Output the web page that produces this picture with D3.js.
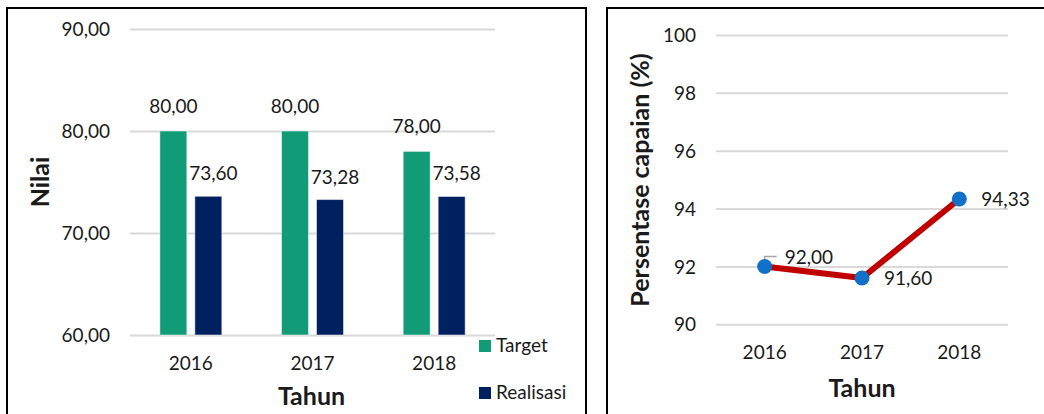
<!DOCTYPE html>
<html>
<head>
<meta charset="utf-8">
<script src="https://cdn.jsdelivr.net/npm/d3@7"></script>
<style>
  html, body { margin: 0; padding: 0; background: #fff; }
  svg { display: block; }
  text { font-family: Lato, "Open Sans", sans-serif; fill: #1a1a1a; }
</style>
</head>
<body>
<svg id="chart" width="1044" height="414"></svg>
<script>
// ---- data ----
const years = ["2016", "2017", "2018"];
const seriesNames = ["Target", "Realisasi"];
const targetValues = [80.00, 80.00, 78.00];
const realisasiValues = [73.60, 73.28, 73.58];
const capaianValues = [92.00, 91.60, 94.33];
const barTicks = [60, 70, 80, 90];
const lineTicks = [90, 92, 94, 96, 98, 100];

const colors = { Target: "#119b77", Realisasi: "#002060" };
const locale = d3.formatLocale({ decimal: ",", thousands: ".", grouping: [3], currency: ["", ""] });
const fmt2 = locale.format(".2f");
const fmt0 = locale.format("d");
const FS = 19, TFS = 25;

const svg = d3.select("#chart");

// panel borders
svg.append("rect").attr("x", 7).attr("y", 8).attr("width", 579).attr("height", 500)
  .attr("fill", "none").attr("stroke", "#000").attr("stroke-width", 2);
svg.append("rect").attr("x", 607).attr("y", 8).attr("width", 500).attr("height", 500)
  .attr("fill", "none").attr("stroke", "#000").attr("stroke-width", 2);

// ================= LEFT: bar chart =================
{
  const L = 130, R = 495, T = 29, B = 335;
  const x0 = d3.scaleBand().domain(years).range([L, R]).paddingInner(0).paddingOuter(0);
  const bw = x0.bandwidth();
  const x1 = d3.scaleBand().domain(seriesNames).range([bw / 2 - 31, bw / 2 + 31]).paddingInner(0.229);
  const y = d3.scaleLinear().domain([60, 90]).range([B, T]);

  const yAxis = svg.append("g").attr("transform", `translate(${L},0)`)
    .call(d3.axisLeft(y).tickValues(barTicks).tickFormat(fmt2).tickSizeInner(-(R - L)).tickSizeOuter(0).tickPadding(20));
  yAxis.select(".domain").remove();
  yAxis.selectAll("line").attr("stroke", "#d9d9d9").attr("stroke-width", 2);
  yAxis.selectAll("text").attr("font-size", FS).attr("dy", "0.35em").style("font-family", "Lato").attr("fill", "#1a1a1a");

  const data = years.map((yr, i) => ({ year: yr, values: [
    { key: "Target", value: targetValues[i] },
    { key: "Realisasi", value: realisasiValues[i] }
  ]}));

  const groups = svg.append("g").selectAll("g").data(data).join("g")
    .attr("transform", d => `translate(${x0(d.year)},0)`);
  groups.selectAll("rect").data(d => d.values).join("rect")
    .attr("x", d => x1(d.key)).attr("width", x1.bandwidth())
    .attr("y", d => y(d.value)).attr("height", d => y(60) - y(d.value))
    .attr("fill", d => colors[d.key]).attr("stroke", "#ffffff").attr("stroke-opacity", 0.5).attr("stroke-width", 1);
  groups.selectAll("text.val").data(d => d.values).join("text").attr("class", "val")
    .attr("x", d => x1(d.key) + x1.bandwidth() / 2 + (d.key === "Realisasi" ? 5 : 0))
    .attr("y", d => y(d.value) - (d.key === "Realisasi" ? 16 : 18))
    .attr("text-anchor", "middle").attr("font-size", FS)
    .text(d => fmt2(d.value));

  const xAxis = svg.append("g").attr("transform", `translate(0,${B})`)
    .call(d3.axisBottom(x0).tickSize(0));
  xAxis.select(".domain").remove();
  xAxis.selectAll("text").attr("y", 35).attr("dy", null).attr("font-size", FS)
    .style("font-family", "Lato").attr("fill", "#1a1a1a");

  svg.append("text").attr("x", (L + R) / 2 - 1).attr("y", 405).attr("text-anchor", "middle")
    .attr("font-size", TFS).attr("font-weight", "bold").text("Tahun");
  svg.append("text").attr("transform", "translate(49,182) rotate(-90)").attr("text-anchor", "middle")
    .attr("font-size", TFS).attr("font-weight", "bold").text("Nilai");

  // legend
  const leg = svg.append("g").selectAll("g").data(seriesNames).join("g")
    .attr("transform", (d, i) => `translate(479,${340 + i * 47})`);
  leg.append("rect").attr("width", 12).attr("height", 12).attr("fill", d => colors[d]);
  leg.append("text").attr("x", 17).attr("y", 12).attr("font-size", FS).text(d => d);
}

// ================= RIGHT: line chart =================
{
  const L = 716, R = 1008, T = 35, B = 324.3;
  const x = d3.scaleBand().domain(years).range([L, R]);
  const y = d3.scaleLinear().domain([90, 100]).range([B, T]);
  const cx = d => x(d) + x.bandwidth() / 2;

  const yAxis = svg.append("g").attr("transform", `translate(${L},0)`)
    .call(d3.axisLeft(y).tickValues(lineTicks).tickFormat(fmt0).tickSizeInner(-(R - L)).tickSizeOuter(0).tickPadding(20));
  yAxis.select(".domain").remove();
  yAxis.selectAll("line").attr("stroke", "#d9d9d9").attr("stroke-width", 2);
  yAxis.selectAll("text").attr("font-size", FS).attr("dy", "0.35em").style("font-family", "Lato").attr("fill", "#1a1a1a");

  const xAxis = svg.append("g").attr("transform", `translate(0,${B})`)
    .call(d3.axisBottom(x).tickSize(0));
  xAxis.select(".domain").remove();
  xAxis.selectAll("text").attr("y", 35).attr("dy", null).attr("font-size", FS)
    .style("font-family", "Lato").attr("fill", "#1a1a1a");

  const pts = years.map((yr, i) => ({ year: yr, value: capaianValues[i], i }));
  const line = d3.line().x(d => cx(d.year)).y(d => y(d.value));
  svg.append("path").datum(pts).attr("d", line).attr("fill", "none")
    .attr("stroke", "#c00000").attr("stroke-width", 6).attr("stroke-linejoin", "round");

  // leader line for first label
  const p0 = pts[0];
  svg.append("path")
    .attr("d", `M${cx(p0.year)},${y(p0.value) - 4}V${y(p0.value) - 10}H${cx(p0.year) + 12}`)
    .attr("fill", "none").attr("stroke", "#a6a6a6").attr("stroke-width", 1.5);

  svg.append("g").selectAll("circle").data(pts).join("circle")
    .attr("cx", d => cx(d.year)).attr("cy", d => y(d.value)).attr("r", 7.5)
    .attr("fill", "#1170c8");

  svg.append("g").selectAll("text").data(pts).join("text")
    .attr("x", d => cx(d.year) + (d.i === 0 ? 20 : 22))
    .attr("y", d => y(d.value) + (d.i === 0 ? -2 : 7))
    .attr("font-size", FS).text(d => fmt2(d.value));

  svg.append("text").attr("x", (L + R) / 2).attr("y", 397).attr("text-anchor", "middle")
    .attr("font-size", TFS).attr("font-weight", "bold").text("Tahun");
  svg.append("text").attr("transform", "translate(649,180) rotate(-90)").attr("text-anchor", "middle")
    .attr("font-size", TFS).attr("font-weight", "bold").text("Persentase capaian (%)");
}
</script>
</body>
</html>
